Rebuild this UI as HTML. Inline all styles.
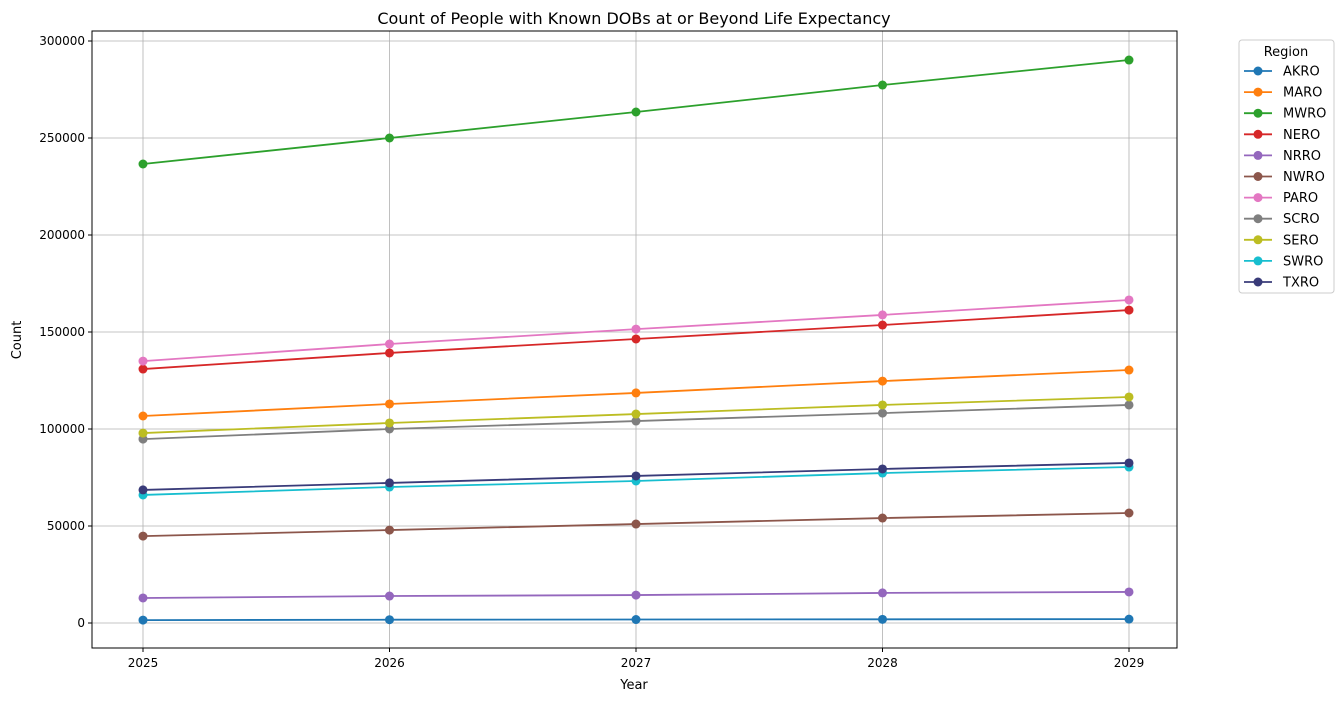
<!DOCTYPE html>
<html><head><meta charset="utf-8"><style>
body{margin:0;background:#fff;}
svg text{font-family:"DejaVu Sans","Liberation Sans",sans-serif;fill:#000;}
</style></head><body>
<svg id="chart" width="1344" height="701" xmlns="http://www.w3.org/2000/svg">
<rect width="1344" height="701" fill="#fff"/>
<g id="grid"></g>
<g id="series"></g>
<rect x="92" y="31" width="1085" height="617" fill="none" stroke="#000" stroke-width="1"/>
<g id="axes"></g>
<text x="634" y="24" text-anchor="middle" font-size="16">Count of People with Known DOBs at or Beyond Life Expectancy</text>
<text x="634" y="689" text-anchor="middle" font-size="13">Year</text>
<text transform="translate(21,340) rotate(-90)" text-anchor="middle" font-size="13">Count</text>
<g id="legend">
<rect x="1239" y="40" width="95" height="253" rx="3" fill="#fff" stroke="#ccc"/>
<text x="1286" y="56" text-anchor="middle" font-size="13">Region</text>
</g>
</svg>
<script>
const years=[2025,2026,2027,2028,2029];
const regions=["AKRO","MARO","MWRO","NERO","NRRO","NWRO","PARO","SCRO","SERO","SWRO","TXRO"];
const colors=["#1f77b4","#ff7f0e","#2ca02c","#d62728","#9467bd","#8c564b","#e377c2","#7f7f7f","#bcbd22","#17becf","#393b79"];
const AKRO=[1500,1700,1800,1900,2000];
const MARO=[106700,112900,118600,124700,130400];
const MWRO=[236600,250000,263400,277300,290200];
const NERO=[130900,139200,146400,153600,161300];
const NRRO=[12900,13900,14400,15500,16000];
const NWRO=[44800,47900,51000,54100,56700];
const PARO=[135000,143800,151500,158800,166500];
const SCRO=[94800,100000,104100,108200,112400];
const SERO=[97900,103100,107700,112400,116500];
const SWRO=[66000,70100,73200,77300,80400];
const TXRO=[68600,72200,75800,79400,82500];
const seriesVals=[AKRO,MARO,MWRO,NERO,NRRO,NWRO,PARO,SCRO,SERO,SWRO,TXRO];
const yTicks=[0,50000,100000,150000,200000,250000,300000];
const NS="http://www.w3.org/2000/svg";
const xs=v=>143+(v-2025)*(1129-143)/4;
const ys=v=>623-v*(623-41)/300000;
function mk(t,a,p){const e=document.createElementNS(NS,t);for(const k in a)e.setAttribute(k,a[k]);p.appendChild(e);return e;}
const grid=document.getElementById('grid'),axes=document.getElementById('axes'),ser=document.getElementById('series'),leg=document.getElementById('legend');
years.forEach(y=>{const X=xs(y);
 const g=mk('line',{x1:X,x2:X,y1:31,y2:648,stroke:'#b0b0b0','stroke-width':0.8},grid);
 
 const t=mk('line',{x1:X,x2:X,y1:648,y2:652,stroke:'#000'},axes);
 
 const l=mk('text',{x:X,y:667,'text-anchor':'middle','font-size':12},axes);l.textContent=y;
 });
yTicks.forEach(v=>{const Y=ys(v);
 const g=mk('line',{x1:92,x2:1177,y1:Y,y2:Y,stroke:'#b0b0b0','stroke-width':0.8},grid);
 
 const t=mk('line',{x1:88,x2:92,y1:Y,y2:Y,stroke:'#000'},axes);
 
 const l=mk('text',{x:85,y:Y+4,'text-anchor':'end','font-size':12},axes);l.textContent=v;
 });
regions.forEach((r,i)=>{const c=colors[i],vals=seriesVals[i];
 const g=mk('g',{},ser);
 const p=mk('polyline',{points:vals.map((v,j)=>xs(years[j])+','+ys(v)).join(' '),fill:'none',stroke:c,'stroke-width':1.8},g);
 
 vals.forEach((v,j)=>{const m=mk('circle',{cx:xs(years[j]),cy:ys(v),r:4.5,fill:c},g);
  });
 const Y=71+i*21.1;
 const e=mk('g',{},leg);
 mk('line',{x1:1244,x2:1272,y1:Y,y2:Y,stroke:c,'stroke-width':1.8},e);
 mk('circle',{cx:1258,cy:Y,r:4.5,fill:c},e);
 const t=mk('text',{x:1283,y:Y+4.5,'font-size':13},e);t.textContent=r;});
</script>
</body></html>
